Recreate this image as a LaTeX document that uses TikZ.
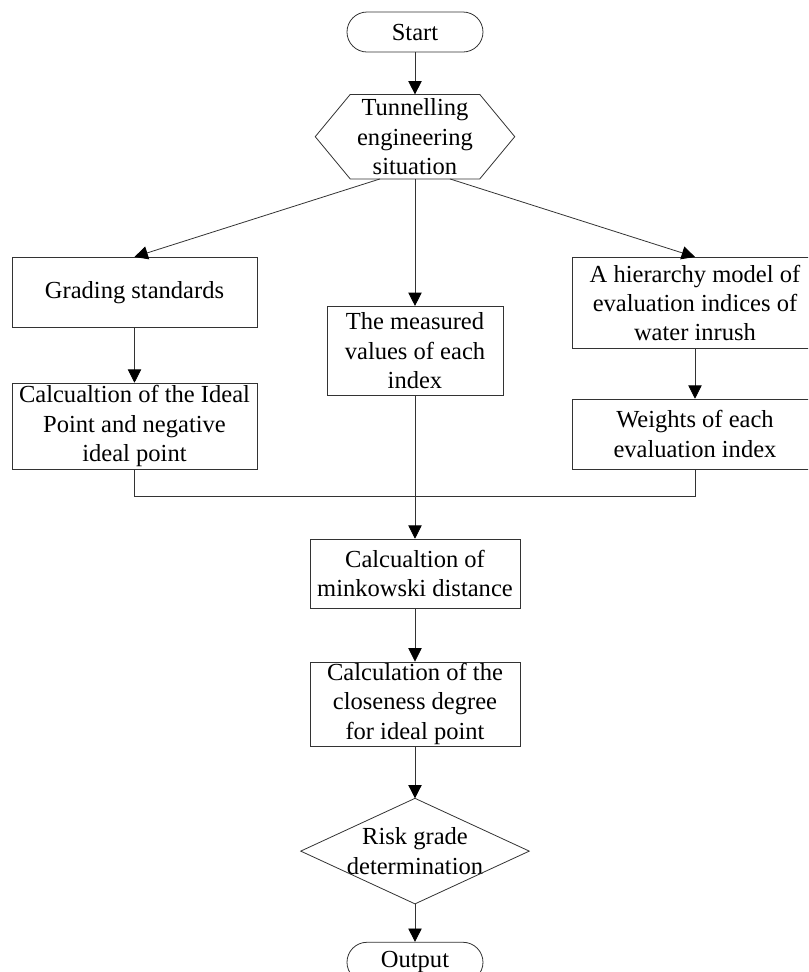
\documentclass[tikz,border=0pt]{standalone}
\usepackage{fontspec}
\setmainfont{Liberation Serif}
\usetikzlibrary{arrows.meta,positioning,calc}

\begin{document}
\begin{tikzpicture}[
    node distance=30pt,
    font=\fontsize{18.4pt}{22pt}\selectfont,
    box/.style={rectangle, draw=black!80, line width=0.6pt, align=center,
                inner sep=0pt, minimum width=183.75pt},
    term/.style={rectangle, rounded corners=15pt, draw=black!80, line width=0.6pt,
                 minimum width=102pt, minimum height=30pt, inner sep=0pt},
    bare/.style={rectangle, align=center, inner sep=0pt},
    flow/.style={-{Triangle[length=10pt, width=10pt, black]}, line width=0.6pt, draw=black!80},
    link/.style={line width=0.6pt, draw=black!80}
]
\useasboundingbox (-311.25pt,24pt) rectangle (294.75pt,-705pt);
\clip (-311.25pt,24pt) rectangle (294.75pt,-705pt);
\node[term] (start) at (0,0) {Start};
\node[bare, minimum width=96.75pt, minimum height=63pt, below=31.5pt of start] (sit) {Tunnelling\\engineering\\situation};
\node[box, minimum height=52.5pt, below=58.5pt of sit, xshift=-210.375pt] (grade) {Grading standards};
\node[box, minimum height=64.5pt, below=41.25pt of grade] (ideal) {Calcualtion of the Ideal\\Point and negative\\ideal point};
\node[box, minimum width=132pt, minimum height=66.75pt, below=95.25pt of sit] (meas) {The measured\\values of each\\index};
\node[box, minimum height=68.25pt, below=58.5pt of sit, xshift=210pt] (hier) {A hierarchy model of\\evaluation indices of\\water inrush};
\node[box, minimum height=52.5pt, below=37.5pt of hier] (wts) {Weights of each\\evaluation index};
\node[box, minimum width=157.5pt, minimum height=51.75pt, below=107.25pt of meas] (mink) {Calcualtion of\\minkowski distance};
\node[box, minimum width=157.5pt, minimum height=63pt, below=39.75pt of mink] (close) {Calculation of the\\closeness degree\\for ideal point};
\node[bare, minimum width=171pt, minimum height=78.75pt, below=39pt of close] (risk) {Risk grade\\determination};
\node[term, below=28.5pt of risk] (out) {Output};
\coordinate[below=20.25pt of ideal.south] (jl);
\draw[link] (sit.north west) -- (sit.north east) -- ([xshift=26.25pt]sit.east) -- (sit.south east) -- (sit.south west) -- ([xshift=-26.25pt]sit.west) -- cycle;
\draw[link] (risk.north) -- (risk.east) -- (risk.south) -- (risk.west) -- cycle;
\draw[flow] (start)--(sit); \draw[flow] ([xshift=-26.25pt]sit.south)--(grade.north);
\draw[flow] (sit)--(meas); \draw[flow] ([xshift=26.25pt]sit.south)--(hier.north);
\draw[flow] (grade)--(ideal); \draw[flow] (hier)--(wts);
\draw[link] (ideal.south)--(jl)-|(wts.south);
\draw[flow] (meas)--(mink); \draw[flow] (mink)--(close);
\draw[flow] (close)--(risk.north); \draw[flow] (risk.south)--(out);
\end{tikzpicture}
\end{document}
